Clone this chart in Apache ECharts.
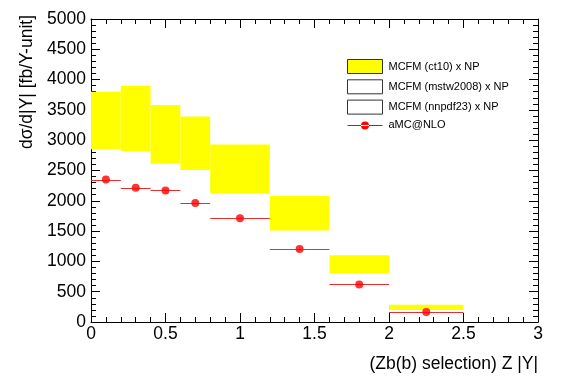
<!DOCTYPE html>
<html><head><meta charset="utf-8">
<script src="https://cdn.jsdelivr.net/npm/echarts@6/dist/echarts.min.js"></script>
<style>html,body{margin:0;padding:0;background:#fff}#c{width:567px;height:384px}</style>
</head><body><div id="c"></div>
<script>
// ---- data ----
const binLow  = [0, 0.2, 0.4, 0.6, 0.8, 1.2, 1.6, 2.0];
const binHigh = [0.2, 0.4, 0.6, 0.8, 1.2, 1.6, 2.0, 2.5];
const ct10Low  = [2850, 2820, 2610, 2510, 2120, 1510, 800, 200];
const ct10High = [3800, 3900, 3580, 3390, 2930, 2080, 1100, 285];
const amcX = [0.1, 0.3, 0.5, 0.7, 1.0, 1.4, 1.8, 2.25];
const amcY = [2350, 2215, 2170, 1965, 1710, 1205, 620, 165];
const xTickLabels = ['0', '0.5', '1', '1.5', '2', '2.5', '3'];
const yTickLabels = ['0', '500', '1000', '1500', '2000', '2500', '3000', '3500', '4000', '4500', '5000'];
const seriesNames = ['MCFM (ct10) x NP', 'MCFM (mstw2008) x NP', 'MCFM (nnpdf23) x NP', 'aMC@NLO'];
const xTitle = '(Zb(b) selection) Z |Y|';
const yTitle = 'dσ/d|Y| [fb/Y-unit]';

const FONT = '"Liberation Sans", Arial, Helvetica, sans-serif';
const FS = 17.5;

const boxData = binLow.map((b, i) => [b, binHigh[i], ct10Low[i], ct10High[i]]);
const errData = binLow.map((b, i) => [b, binHigh[i], amcY[i]]);
const ptData = amcX.map((x, i) => [x, amcY[i]]);

function xLabel(v) { const i = Math.round(v / 0.5); return xTickLabels[i] !== undefined ? xTickLabels[i] : ''; }
function yLabel(v) { const i = Math.round(v / 500); return yTickLabels[i] !== undefined ? yTickLabels[i] : ''; }

const tickCommon = {
  axisLine: { show: true, onZero: false, lineStyle: { color: '#000', width: 1 } },
  axisTick: { show: true, inside: true, length: 9, lineStyle: { color: '#000', width: 1 } },
  minorTick: { show: true, splitNumber: 5, length: 5, lineStyle: { color: '#000', width: 1 } },
  splitLine: { show: false },
  minorSplitLine: { show: false }
};

const chart = echarts.init(document.getElementById('c'), null, { renderer: 'canvas' });
chart.setOption({
  backgroundColor: '#fff',
  animation: false,
  grid: { left: 91, right: 29, top: 19, bottom: 62, containLabel: false },
  xAxis: [
    Object.assign({ type: 'value', min: 0, max: 3, interval: 0.5, position: 'bottom',
      axisLabel: { show: true, formatter: xLabel, color: '#000', fontSize: FS, fontFamily: FONT, margin: 3 } }, tickCommon),
    Object.assign({ type: 'value', min: 0, max: 3, interval: 0.5, position: 'top',
      axisLabel: { show: false } }, tickCommon)
  ],
  yAxis: [
    Object.assign({ type: 'value', min: 0, max: 5000, interval: 500, position: 'left',
      axisLabel: { show: true, formatter: yLabel, color: '#000', fontSize: FS, fontFamily: FONT, margin: 5 } }, tickCommon),
    Object.assign({ type: 'value', min: 0, max: 5000, interval: 500, position: 'right',
      axisLabel: { show: false } }, tickCommon)
  ],
  legend: {
    left: 347, top: 59, orient: 'vertical',
    itemWidth: 35, itemHeight: 14, itemGap: 5.3,
    textStyle: { fontSize: 11, fontFamily: FONT, color: '#000', padding: [0, 0, 0, 1] },
    padding: 0,
    data: [
      { name: seriesNames[0], icon: 'rect', itemStyle: { color: '#ffff00', borderColor: '#333', borderWidth: 1 } },
      { name: seriesNames[1], icon: 'rect', itemStyle: { color: '#fff', borderColor: '#333', borderWidth: 1 } },
      { name: seriesNames[2], icon: 'rect', itemStyle: { color: '#fff', borderColor: '#333', borderWidth: 1 } },
      { name: seriesNames[3], icon: 'path://M0,3.5h35v1h-35z M17.5,0a4,4 0 1,0 0.001,0z', itemStyle: { color: '#ff0000' } }
    ]
  },
  graphic: [
    { type: 'text', right: 29, top: 355,
      style: { text: xTitle, font: FS + 'px ' + FONT, fill: '#000' } },
    { type: 'text', x: 27, y: 15, rotation: Math.PI / 2,
      style: { text: yTitle, font: FS + 'px ' + FONT, fill: '#000', align: 'right', verticalAlign: 'middle' } }
  ],
  series: [
    {
      name: seriesNames[0], type: 'custom', data: boxData, clip: true,
      itemStyle: { color: '#ffff00' },
      renderItem: function (params, api) {
        const p0 = api.coord([api.value(0), api.value(3)]);
        const p1 = api.coord([api.value(1), api.value(2)]);
        return { type: 'rect', shape: { x: p0[0], y: p0[1], width: p1[0] - p0[0], height: p1[1] - p0[1] },
          style: { fill: '#ffff00' } };
      },
      z: 2
    },
    { name: seriesNames[1], type: 'custom', data: [], itemStyle: { color: '#fff' }, renderItem: function () { return null; } },
    { name: seriesNames[2], type: 'custom', data: [], itemStyle: { color: '#fff' }, renderItem: function () { return null; } },
    {
      name: seriesNames[3], type: 'custom', data: errData, itemStyle: { color: '#ff0000' },
      renderItem: function (params, api) {
        const a = api.coord([api.value(0), api.value(2)]);
        const b = api.coord([api.value(1), api.value(2)]);
        const y = Math.round(a[1]) + 0.5;
        return { type: 'line', shape: { x1: a[0], y1: y, x2: b[0], y2: y },
          style: { stroke: '#e03030', lineWidth: 1 } };
      },
      z: 3
    },
    {
      name: seriesNames[3], type: 'scatter', data: ptData, symbol: 'circle', symbolSize: 8,
      itemStyle: { color: '#ff0000' }, z: 4
    }
  ]
});
</script></body></html>
